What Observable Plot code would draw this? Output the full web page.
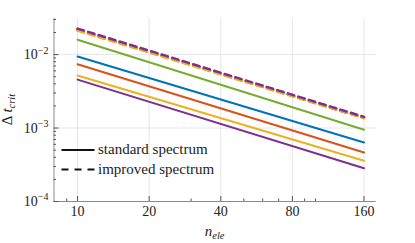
<!DOCTYPE html>
<html>
<head>
<meta charset="utf-8">
<script src="https://cdn.jsdelivr.net/npm/d3@7"></script>
<script src="https://cdn.jsdelivr.net/npm/@observablehq/plot@0.6"></script>
<style>
  html, body { margin: 0; padding: 0; background: #fff; }
  #chart { width: 415px; height: 243px; }
</style>
</head>
<body>
<div id="chart"></div>
<script>
// ---- data ----
const nEle = [10, 160];
const seriesNames = ["s1", "s2", "s3", "s4", "s5"];
const seriesColors = ["#77AC30", "#0072BD", "#D95319", "#EDB120", "#7E2F8E"];
// standard spectrum, Δt_crit at n_ele = 10 and 160
const standardAt10  = [0.0159, 0.0094, 0.00738, 0.00518, 0.00456];
const standardAt160 = [0.00095, 0.000637, 0.000465, 0.000358, 0.000284];
// improved spectrum
const improvedAt10  = [0.0218, 0.0220, 0.0215, 0.0212, 0.0226];
const improvedAt160 = [0.00138, 0.00139, 0.00137, 0.00137, 0.00142];

const xMajorTicks = [10, 20, 40, 80, 160];
const xMinorTicks = [9, 30, 50, 60, 70, 90, 100];
const yMajorTicks = [1e-4, 1e-3, 1e-2];
const yMinorTicks = [2e-4, 3e-4, 4e-4, 5e-4, 6e-4, 7e-4, 8e-4, 9e-4,
                     2e-3, 3e-3, 4e-3, 5e-3, 6e-3, 7e-3, 8e-3, 9e-3,
                     2e-2, 3e-2];
const xDomain = [7.96, 180];
const yDomain = [1e-4, 0.031];
const legendLabels = ["standard spectrum", "improved spectrum"];

// ---- build tables ----
function rows(at10, at160) {
  const out = [];
  seriesNames.forEach((s, i) => {
    out.push({series: s, n: nEle[0], dt: at10[i]});
    out.push({series: s, n: nEle[1], dt: at160[i]});
  });
  return out;
}
const standardRows = rows(standardAt10, standardAt160);
const improvedRows = rows(improvedAt10, improvedAt160);

const FONT = "'Liberation Serif', 'DejaVu Serif', serif";
const W = 415, H = 243;
const mL = 53.5, mR = 39.3, mT = 18, mB = 42;

const chart = Plot.plot({
  width: W,
  height: H,
  marginLeft: mL,
  marginRight: mR,
  marginTop: mT,
  marginBottom: mB,
  style: {fontFamily: FONT, fontSize: "14px", color: "#222", background: "#fff"},
  x: {type: "log", domain: xDomain, axis: null},
  y: {type: "log", domain: yDomain, axis: null},
  color: {domain: seriesNames, range: seriesColors},
  marks: [
    Plot.gridX(xMajorTicks, {stroke: "#e6e6e6", strokeOpacity: 1, strokeWidth: 1}),
    Plot.gridY(yMajorTicks, {stroke: "#e6e6e6", strokeOpacity: 1, strokeWidth: 1}),
    Plot.ruleX([xDomain[0]], {stroke: "#8a8a8a", strokeWidth: 1}),
    Plot.ruleY([yDomain[0]], {stroke: "#8a8a8a", strokeWidth: 1}),
    Plot.axisX(xMajorTicks, {tickSize: -5, text: null, label: null, stroke: "#555"}),
    Plot.axisX(xMinorTicks, {tickSize: -2.5, text: null, label: null, stroke: "#555"}),
    Plot.axisY(yMajorTicks, {tickSize: -5, text: null, label: null, stroke: "#555"}),
    Plot.axisY(yMinorTicks, {tickSize: -2.5, text: null, label: null, stroke: "#555"}),
    Plot.text(xMajorTicks, {x: d => d, frameAnchor: "bottom", dy: 14, fontSize: 14,
      fill: "#222", text: d => String(d)}),
    Plot.text(yMajorTicks, {y: d => d, frameAnchor: "left", dx: -5.5, textAnchor: "end", fontSize: 14,
      fill: "#222", text: d => String(Math.round(Math.log10(d)))}),
    Plot.line(standardRows, {x: "n", y: "dt", z: "series", stroke: "series", strokeWidth: 2}),
    Plot.line(improvedRows, {x: "n", y: "dt", z: "series", stroke: "series", strokeWidth: 2.5,
      strokeDasharray: "6.5,4.5"})
  ]
});
document.getElementById("chart").appendChild(chart);

const svg = d3.select(chart);

// y tick labels as 10^k with a real superscript
svg.selectAll("text").each(function() {
  const k = this.textContent;
  if (!/^-\d+$/.test(k)) return;
  const t = d3.select(this);
  t.text("");
  t.append("tspan").text("10");
  t.append("tspan").attr("dy", "-0.55em").attr("font-size", "10px")
    .text(k.replace("-", "\u2212"));
});

const plotLeft = mL, plotRight = W - mR, plotTop = mT, plotBottom = H - mB;

// x label
const xl = svg.append("text")
  .attr("x", (plotLeft + plotRight) / 2)
  .attr("y", 235.5)
  .attr("text-anchor", "middle")
  .attr("font-family", FONT).attr("font-size", "15px").attr("fill", "#222");
xl.append("tspan").attr("font-style", "italic").text("n");
xl.append("tspan").attr("font-style", "italic").attr("font-size", "10.5px").attr("dy", "0.3em").text("ele");

// y label
const yl = svg.append("text")
  .attr("transform", `translate(11.5,${(plotTop + plotBottom) / 2}) rotate(-90)`)
  .attr("text-anchor", "middle")
  .attr("font-family", FONT).attr("font-size", "15px").attr("fill", "#222");
yl.append("tspan").text("\u0394 ");
yl.append("tspan").attr("font-style", "italic").text("t");
yl.append("tspan").attr("font-style", "italic").attr("font-size", "10.5px").attr("dy", "0.3em").text("crit");

// legend (inside the plot, lower left)
const legendY = [150, 169.5];
const dashes = [null, "7,6"];
legendLabels.forEach((lab, i) => {
  const ln = svg.append("line")
    .attr("x1", 61.5).attr("x2", 94.5)
    .attr("y1", legendY[i]).attr("y2", legendY[i])
    .attr("stroke", "#111").attr("stroke-width", 2);
  if (dashes[i]) ln.attr("stroke-dasharray", dashes[i]);
  svg.append("text")
    .attr("x", 98).attr("y", legendY[i] + 4)
    .attr("text-anchor", "start")
    .attr("font-family", FONT).attr("font-size", "15px").attr("fill", "#222")
    .text(lab);
});
</script>
</body>
</html>
